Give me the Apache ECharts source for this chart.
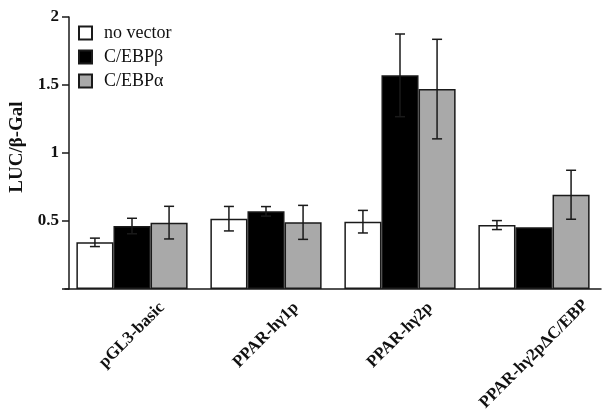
<!DOCTYPE html>
<html><head><meta charset="utf-8">
<script src="https://cdn.jsdelivr.net/npm/echarts@6/dist/echarts.min.js"></script>
<style>html,body{margin:0;padding:0;background:#fff}#c{width:609px;height:412px}</style>
</head><body><div id="c"></div>
<script>
var categories = ['pGL3-basic', 'PPAR-h\u03b31p', 'PPAR-h\u03b32p', 'PPAR-h\u03b32p\u0394C/EBP'];
var seriesNames = ['no vector', 'C/EBP\u03b2', 'C/EBP\u03b1'];
var noVector = [0.343, 0.517, 0.495, 0.470];
var cebpBeta = [0.463, 0.571, 1.571, 0.454];
var cebpAlpha = [0.488, 0.490, 1.470, 0.693];
var noVectorErr = [0.031, 0.090, 0.083, 0.033];
var cebpBetaErr = [0.057, 0.035, 0.304, 0];
var cebpAlphaErr = [0.120, 0.125, 0.366, 0.180];
var yTicks = [0, 0.5, 1, 1.5, 2];

var values = [noVector, cebpBeta, cebpAlpha];
var errs = [noVectorErr, cebpBetaErr, cebpAlphaErr];
var fills = ['#ffffff', '#000000', '#a9a9a9'];
var catGap = 0.17;
var longLabelIndex = 3;

var errData = [];
for (var s = 0; s < 3; s++) {
  for (var i = 0; i < categories.length; i++) {
    if (errs[s][i] > 0) errData.push([i, s, values[s][i], errs[s][i]]);
  }
}

var series = seriesNames.map(function (n, s) {
  return {
    name: n, type: 'bar', data: values[s], barGap: 0, barCategoryGap: (catGap * 100) + '%',
    itemStyle: { color: fills[s], borderColor: '#1a1a1a', borderWidth: 1.5 },
    silent: true
  };
});
series.push({
  type: 'custom', silent: true, z: 10,
  data: errData,
  encode: { x: 0, y: 2 },
  renderItem: function (params, api) {
    var cat = api.value(0), s = api.value(1), v = api.value(2), e = api.value(3);
    var bandW = api.size([1, 0])[0];
    var barW = bandW * (1 - catGap) / 3;
    var c = api.coord([cat, v]);
    var x = c[0] + (s - 1) * barW;
    var yt = api.coord([cat, v + e])[1];
    var yb = api.coord([cat, v - e])[1];
    var cap = 5;
    var st = { stroke: '#1a1a1a', lineWidth: 1.5 };
    return { type: 'group', children: [
      { type: 'line', shape: { x1: x, y1: yt, x2: x, y2: yb }, style: st },
      { type: 'line', shape: { x1: x - cap, y1: yt, x2: x + cap, y2: yt }, style: st },
      { type: 'line', shape: { x1: x - cap, y1: yb, x2: x + cap, y2: yb }, style: st }
    ]};
  }
});

var labelFont = { fontFamily: 'Liberation Serif', fontWeight: 'bold', fontSize: 17, color: '#111' };

var chart = echarts.init(document.getElementById('c'), null, { renderer: 'canvas' });
chart.setOption({
  animation: false,
  backgroundColor: '#fff',
  grid: { left: 65, right: 8, top: 17, bottom: 123, containLabel: false, outerBoundsMode: 'none' },
  legend: {
    data: seriesNames, orient: 'vertical', left: 78, top: 24, padding: 0,
    itemWidth: 13, itemHeight: 13, itemGap: 6, icon: 'rect',
    textStyle: { fontFamily: 'Liberation Serif', fontSize: 18, color: '#111', padding: [0, 0, 0, 7] }
  },
  xAxis: [{
    type: 'category', data: categories, position: 'bottom',
    axisLine: { lineStyle: { color: '#1a1a1a', width: 1.5 } },
    axisTick: { show: false },
    axisLabel: Object.assign({
      rotate: 45, interval: 0, margin: 46, align: 'center', verticalAlign: 'middle',
      formatter: function (v, i) { return i === longLabelIndex ? '' : v; }
    }, labelFont)
  }, {
    type: 'category', data: categories, position: 'bottom',
    axisLine: { show: false }, axisTick: { show: false }, splitLine: { show: false },
    axisLabel: Object.assign({
      rotate: 45, interval: 0, margin: 65, align: 'center', verticalAlign: 'middle',
      formatter: function (v, i) { return i === longLabelIndex ? v : ''; }
    }, labelFont)
  }],
  yAxis: {
    type: 'value', min: yTicks[0], max: yTicks[yTicks.length - 1], interval: 0.5, offset: -4,
    name: 'LUC/\u03b2-Gal', nameLocation: 'middle', nameGap: 41, nameRotate: 90,
    nameTextStyle: { fontFamily: 'Liberation Serif', fontWeight: 'bold', fontSize: 19, color: '#111', padding: [0, 0, 0, 12] },
    axisLine: { show: true, lineStyle: { color: '#1a1a1a', width: 1.5 } },
    axisTick: { show: true, length: 7, lineStyle: { color: '#1a1a1a', width: 1.5 } },
    splitLine: { show: false },
    axisLabel: Object.assign({
      margin: 10,
      formatter: function (v) { return v === 0 ? '' : String(v); }
    }, labelFont)
  },
  series: series
});
</script>
</body></html>
